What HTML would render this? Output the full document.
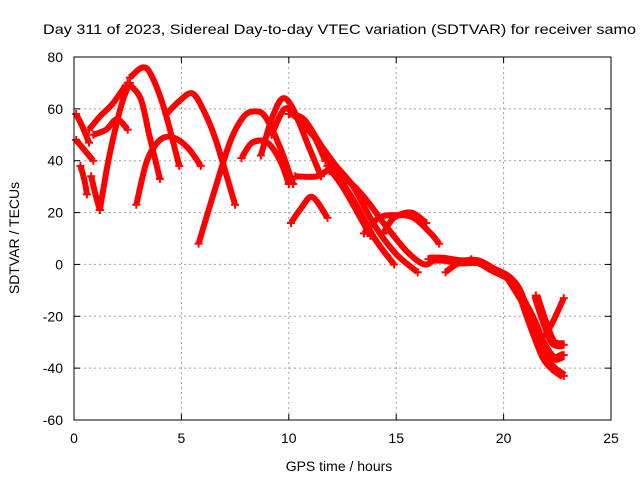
<!DOCTYPE html>
<html><head><meta charset="utf-8"><style>
body{margin:0;background:#fff}
svg text{font-family:"Liberation Sans",sans-serif;font-size:14px;fill:#000}
</style></head><body>
<svg id="chart" width="640" height="480" xmlns="http://www.w3.org/2000/svg">
<text x="43" y="34" textLength="593" lengthAdjust="spacingAndGlyphs">Day 311 of 2023, Sidereal Day-to-day VTEC variation (SDTVAR) for receiver samo</text>
<g id="grid"></g>
<g id="series"></g>
<rect x="74" y="57" width="537" height="363" fill="none" stroke="#000" stroke-width="1"/>
<g id="axes"></g>
<text x="339" y="471" text-anchor="middle">GPS time / hours</text>
<text transform="translate(19,238) rotate(-90)" text-anchor="middle">SDTVAR / TECUs</text>
</svg>
<script>
const xTicks=[0,5,10,15,20,25];
const yTicks=[-60,-40,-20,0,20,40,60,80];
const arc01=[[0.1,58],[0.4,53],[0.7,47]];
const arc02=[[0.1,48],[0.4,45],[0.9,40]];
const arc03=[[0.3,38],[0.5,32],[0.6,27]];
const arc04=[[0.8,34],[1.0,27],[1.2,21]];
const arc05=[[1.2,21],[1.6,40],[2.0,55],[2.3,64],[2.6,70]];
const arc06=[[0.7,52],[1.2,57],[1.8,62],[2.4,69]];
const arc07=[[0.9,50],[1.5,52],[2.0,56],[2.5,52]];
const arc08=[[2.6,72],[3.2,76],[3.6,73],[4.2,60],[4.9,38]];
const arc09=[[2.5,70],[3.1,64],[3.5,50],[4.0,33]];
const arc10=[[2.9,23],[3.4,40],[4.0,48],[4.6,49],[5.3,45],[5.9,38]];
const arc11=[[4.3,58],[4.9,63],[5.5,66],[6.0,60],[6.6,48],[7.5,23]];
const arc12=[[5.8,8],[6.6,30],[7.3,48],[7.9,57],[8.4,59],[8.9,57],[9.6,45],[10.2,31]];
const arc13=[[7.8,41],[8.3,47],[9.0,47],[9.6,40],[10.0,31]];
const arc14=[[8.7,42],[9.2,56],[9.7,64],[10.2,60],[10.9,46],[11.5,34]];
const arc15=[[9.2,50],[9.8,60],[10.3,57],[11.0,52],[11.7,40]];
const arc16=[[10.3,34],[11.3,34],[11.9,37]];
const arc17=[[10.1,16],[10.6,22],[11.1,26],[11.8,18]];
const arc18=[[10.0,58],[10.7,56],[11.5,46],[12.2,38],[13.0,30],[14.0,15],[15.0,4],[16.0,-3]];
const arc19=[[10.5,55],[11.3,48],[12.0,38],[13.0,25],[14.0,10],[14.9,0]];
const arc20=[[11.8,38],[12.5,30],[13.2,20],[13.8,11]];
const arc21=[[11.9,36],[12.8,32],[13.6,25],[14.5,15],[15.5,5],[16.3,0],[16.8,2]];
const arc22=[[13.5,12],[14.2,18],[15.0,19],[15.8,18],[16.6,12],[17.0,8]];
const arc23=[[14.4,12],[14.9,18],[15.7,20],[16.4,16]];
const arc24=[[16.5,2],[17.2,2],[18.0,1],[18.8,1],[19.5,-2],[20.2,-5],[20.7,-10],[21.1,-19],[21.5,-28],[21.9,-36],[22.3,-40],[22.8,-43]];
const arc25=[[20.3,-6],[20.9,-14],[21.4,-22],[21.8,-30],[22.3,-36],[22.8,-35]];
const arc26=[[21.5,-12],[21.9,-22],[22.3,-30],[22.8,-31]];
const arc27=[[21.9,-28],[22.3,-22],[22.8,-13]];
const arc28=[[17.3,-3],[17.8,0],[18.5,2]];
const arcs=[arc01,arc02,arc03,arc04,arc05,arc06,arc07,arc08,arc09,arc10,arc11,arc12,arc13,arc14,arc15,arc16,arc17,arc18,arc19,arc20,arc21,arc22,arc23,arc24,arc25,arc26,arc27,arc28];

const NS='http://www.w3.org/2000/svg';
const X0=74,X1=611,Y0=420,Y1=57;
function sx(t){return X0+(t-0)/(25-0)*(X1-X0);}
function sy(v){return Y0-(v+60)/(140)*(Y0-Y1);}
function mk(tag,attrs){const e=document.createElementNS(NS,tag);for(const k in attrs)e.setAttribute(k,attrs[k]);return e;}
function smoothPath(P){
  let d='M'+P[0][0].toFixed(1)+','+P[0][1].toFixed(1);
  for(let i=0;i<P.length-1;i++){
    const p0=P[Math.max(0,i-1)],p1=P[i],p2=P[i+1],p3=P[Math.min(P.length-1,i+2)];
    const c1=[p1[0]+(p2[0]-p0[0])/6,p1[1]+(p2[1]-p0[1])/6];
    const c2=[p2[0]-(p3[0]-p1[0])/6,p2[1]-(p3[1]-p1[1])/6];
    d+=`C${c1[0].toFixed(1)},${c1[1].toFixed(1)} ${c2[0].toFixed(1)},${c2[1].toFixed(1)} ${p2[0].toFixed(1)},${p2[1].toFixed(1)}`;
  }
  return d;
}
const grid=document.getElementById('grid'),axes=document.getElementById('axes'),series=document.getElementById('series');
xTicks.forEach(t=>{
  const x=sx(t);
  if(t>0&&t<25){const g=mk('line',{x1:x,x2:x,y1:Y1,y2:Y0,stroke:'#a0a0a0','stroke-dasharray':'2,3'});
  
  grid.appendChild(g);}
  const a=mk('line',{x1:x,x2:x,y1:Y0,y2:Y0-6,stroke:'#000'});
  
  axes.appendChild(a);
  const b=mk('line',{x1:x,x2:x,y1:Y1,y2:Y1+6,stroke:'#000'});
  
  axes.appendChild(b);
  const l=mk('text',{x:x,y:443,'text-anchor':'middle'});l.textContent=t;
  
  axes.appendChild(l);
});
yTicks.forEach(v=>{
  const y=sy(v);
  if(v>-60&&v<80){const g=mk('line',{x1:X0,x2:X1,y1:y,y2:y,stroke:'#a0a0a0','stroke-dasharray':'2,3'});
  
  grid.appendChild(g);}
  const a=mk('line',{x1:X0,x2:X0+6,y1:y,y2:y,stroke:'#000'});
  
  axes.appendChild(a);
  const b=mk('line',{x1:X1,x2:X1-6,y1:y,y2:y,stroke:'#000'});
  
  axes.appendChild(b);
  const l=mk('text',{x:63,y:y+5,'text-anchor':'end'});l.textContent=v;
  
  axes.appendChild(l);
});
arcs.forEach((arc,i)=>{
  const P=arc.map(p=>[sx(p[0]),sy(p[1])]);
  const w=(i>=23&&i<=25)?9:6;
  const pl=mk('path',{d:smoothPath(P),fill:'none',stroke:'#ff0000','stroke-width':w,'stroke-linejoin':'round','stroke-linecap':'butt'});
  
  
  series.appendChild(pl);
  [arc[0],arc[arc.length-1]].forEach(p=>{
    const c=mk('path',{d:`M${sx(p[0])-4},${sy(p[1])}h8M${sx(p[0])},${sy(p[1])-4}v8`,stroke:'#ff0000','stroke-width':2});
    
    
    series.appendChild(c);
  });
});
</script>
</body></html>
